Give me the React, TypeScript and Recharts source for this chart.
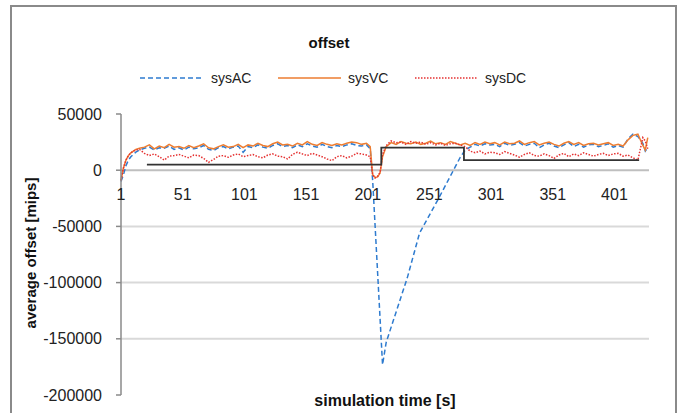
import React from 'react';
import { LineChart, Line, XAxis, YAxis, ReferenceLine, ReferenceDot } from 'recharts';

// shared sampling times (seconds) for sysVC and sysDC
const time = [1,3,5,7,9,11,13,16,20,24,28,32,36,40,44,48,52,56,60,64,68,72,76,80,84,88,92,96,100,104,108,112,116,120,124,128,132,136,140,144,148,152,156,160,164,168,172,176,180,184,188,192,196,200,203,205,207,209,211,213,216,220,224,228,232,236,240,244,248,252,256,260,264,268,272,276,280,284,288,292,296,300,304,308,312,316,320,324,328,332,336,340,344,348,352,356,360,364,368,372,376,380,384,388,392,396,400,404,408,412,416,420,424,426,428];

const sysVC = [-9000,2000,9000,13000,15500,17000,18500,19500,
20500,22500,19000,21500,20000,23000,20500,21000,19500,22000,20000,21500,23500,20000,19000,21000,22500,20500,21000,23000,20000,22500,21500,24000,22000,21000,23500,25000,22500,23000,21500,24000,22500,25500,23000,22000,24500,23000,22000,23500,22500,24000,25000,24500,23000,24000,
21000,-4000,-6500,-6000,-2500,12000,21000,
24500,23000,25500,24000,23500,25000,23000,24000,26000,23500,24500,23000,25500,24000,22500,24000,22000,24500,23000,25000,23500,24500,22500,25000,23500,24000,26000,23000,24500,25500,22500,24000,25000,23000,21500,24000,25500,23000,24500,22000,23500,24000,22500,23500,24500,22000,23000,21500,27000,31000,32000,22000,
18000,29000];

const sysDC = [-9000,2000,9000,13000,15500,17000,18000,18500,
15000,13000,14500,12000,9000,12500,13000,14000,12500,11000,13500,13000,10500,7000,9500,12500,13000,11500,13500,14500,12000,13000,14000,12000,11000,13500,14500,12500,12000,10000,14000,16000,14500,13000,15000,13500,12000,10000,8500,12000,13000,11000,12500,15000,14500,13500,
12000,-4000,-7000,-5500,-2000,14000,22000,
26000,24500,25000,23000,25500,24000,25000,23000,24500,22500,24000,22000,23500,24000,22500,21000,17000,15500,17000,14500,16000,15500,14000,16500,15000,13500,11500,14000,15500,13000,12500,14500,13000,10500,13500,15000,12000,14500,13000,15500,14000,12500,14000,15000,13000,14500,15000,12500,13500,11000,9000,29000,26000,
19000,16500];

// sysAC has its own sampling times
const acTime = [1,3,5,7,9,11,13,16,20,24,28,32,36,40,44,48,52,56,60,64,68,72,76,80,84,88,92,96,100,104,108,112,116,120,124,128,132,136,140,144,148,152,156,160,164,168,172,176,180,184,188,192,196,200,203,205,213,216,233,243,259,276,280,284,288,292,296,300,304,308,312,316,320,324,328,332,336,340,344,348,352,356,360,364,368,372,376,380,384,388,392,396,400,404,408,412,416,420,424,426,428];

const sysAC = [-10000,-4000,4000,9000,12000,14000,16000,18000,
19500,20500,18000,20000,19500,21500,18500,20000,18000,20500,
19000,20000,22000,18500,17500,20000,21000,19000,20500,21500,
16000,21000,20000,22500,20500,19500,22000,23500,21000,22000,
20000,22500,21000,23500,21500,20500,23000,21000,20000,22000,
21000,22500,23500,22000,21500,22500,
19000,-9000,-173000,-153000,-96000,-56000,-24000,11500,18000,
20500,23000,21500,23500,22500,23000,21000,24000,22000,23000,
24500,21500,23000,24000,20000,22500,24000,21500,20000,22500,
24500,21000,23000,20500,22500,23000,21000,22000,23500,20500,
22000,20500,28000,32000,30000,24000,
17000,20000];

// black reference step line
const refTime = [22, 212, 279, 421];
const refLevel = [5000, 20000, 9000, 9000];

const xTicks = [1, 51, 101, 151, 201, 251, 301, 351, 401];
const yTicks = [-200000, -150000, -100000, -50000, 0, 50000];
const gridValues = [-150000, -100000, -50000];

const zip = (ts: number[], vs: number[]) => ts.map((t, i) => ({ t, v: vs[i] }));

const FONT = '"Liberation Sans", Arial, sans-serif';
const AC_COLOR = '#2E7BCF';
const VC_COLOR = '#ED7D31';
const DC_COLOR = '#E53232';

export default function App() {
  const acData = zip(acTime, sysAC);
  const vcData = zip(time, sysVC);
  const dcData = zip(time, sysDC);
  const refData = zip(refTime, refLevel);

  return (
    <div style={{ position: 'absolute', left: 0, top: 0, width: 678, height: 413, overflow: 'hidden', background: '#fff', fontFamily: FONT }}>
      <div style={{ position: 'absolute', left: 0, top: 0 }}>
        <LineChart width={678} height={413} margin={{ top: 114, right: 29, bottom: 18, left: 0 }}>
          <XAxis type="number" dataKey="t" domain={[1, 429]} hide />
          <YAxis
            type="number"
            domain={[-200000, 50000]}
            ticks={yTicks}
            width={121}
            interval={0}
            tickSize={5}
            tickMargin={14}
            axisLine={{ stroke: '#8a8a8a', strokeWidth: 1.5 }}
            tickLine={{ stroke: '#8a8a8a', strokeWidth: 1.5 }}
            tick={{ fontSize: 16, fill: '#222', fontFamily: FONT }}
          />
          {gridValues.map((g) => (
            <ReferenceLine key={g} y={g} stroke="#d9d9d9" strokeWidth={2} />
          ))}
          <ReferenceLine y={0} stroke="#bfbfbf" strokeWidth={2} />
          <Line data={acData} dataKey="v" type="linear" stroke={AC_COLOR} strokeWidth={1.5} strokeDasharray="5 3" dot={false} activeDot={false} isAnimationActive={false} />
          <Line data={vcData} dataKey="v" type="linear" stroke={VC_COLOR} strokeWidth={1.5} dot={false} activeDot={false} isAnimationActive={false} />
          <Line data={dcData} dataKey="v" type="linear" stroke={DC_COLOR} strokeWidth={1.5} strokeDasharray="1.5 1.5" dot={false} activeDot={false} isAnimationActive={false} />
          <Line data={refData} dataKey="v" type="stepAfter" stroke="#333" strokeWidth={1.8} dot={false} activeDot={false} isAnimationActive={false} />
          {xTicks.map((t) => (
            <ReferenceDot
              key={t}
              x={t}
              y={0}
              r={0}
              isFront
              shape={(p: any) => (
                <text x={p.cx} y={p.cy + 30} textAnchor="middle" fontSize={16} fill="#222" fontFamily={FONT}>
                  {t}
                </text>
              )}
            />
          ))}
        </LineChart>
      </div>
      <svg width={678} height={413} style={{ position: 'absolute', left: 0, top: 0, pointerEvents: 'none' }}>
        <rect x={11} y={6} width={665} height={420} fill="none" stroke="#8a8a8a" strokeWidth={2} />
        <text x={329} y={48} textAnchor="middle" fontSize={15} fontWeight="bold" fill="#111" fontFamily={FONT}>offset</text>
        <line x1={140} y1={78} x2={203} y2={78} stroke={AC_COLOR} strokeWidth={1.5} strokeDasharray="5 3" />
        <text x={211} y={83} fontSize={14} fill="#222" fontFamily={FONT}>sysAC</text>
        <line x1={278} y1={78} x2={341} y2={78} stroke={VC_COLOR} strokeWidth={1.5} />
        <text x={348} y={83} fontSize={14} fill="#222" fontFamily={FONT}>sysVC</text>
        <line x1={415} y1={78} x2={477} y2={78} stroke={DC_COLOR} strokeWidth={1.5} strokeDasharray="1.5 1.5" />
        <text x={485} y={83} fontSize={14} fill="#222" fontFamily={FONT}>sysDC</text>
        <text x={385} y={406} textAnchor="middle" fontSize={16} fontWeight="bold" fill="#111" fontFamily={FONT}>simulation time [s]</text>
        <text x={36} y={253} textAnchor="middle" fontSize={15} fontWeight="bold" fill="#111" fontFamily={FONT} transform="rotate(-90 36 253)">average offset [mips]</text>
      </svg>
    </div>
  );
}
